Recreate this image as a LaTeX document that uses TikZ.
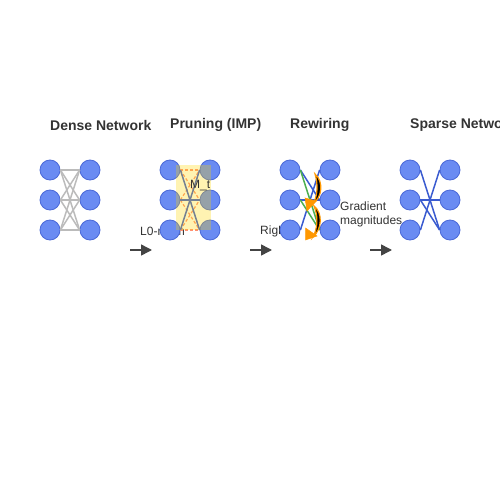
\documentclass[tikz,border=0pt]{standalone}
\usepackage{fontspec}
\setmainfont{Liberation Sans}
\usetikzlibrary{arrows.meta}
\definecolor{nodefill}{HTML}{6A8BF2}
\definecolor{nodeedge}{HTML}{4A68D8}
\definecolor{txt}{HTML}{333333}
\definecolor{flowc}{HTML}{444444}
\definecolor{dedge}{HTML}{BBBBBB}
\definecolor{sedge}{HTML}{3A5BD0}
\definecolor{gedge}{HTML}{4CAF50}
\definecolor{pruned}{HTML}{FF9070}
\definecolor{goldc}{HTML}{FFD700}
\definecolor{orng}{HTML}{FF9800}
\begin{document}
\begin{tikzpicture}[x=1pt,y=-1pt,
 neuron/.style={circle,fill=nodefill,draw=nodeedge,line width=0.8pt,minimum size=20pt,inner sep=0pt},
 title/.style={anchor=west,inner sep=0pt,text=txt,font=\fontsize{14}{16}\selectfont\bfseries},
 lbl/.style={anchor=west,inner sep=0pt,text=txt,font=\fontsize{12}{14}\selectfont},
 flow/.style={draw=flowc,line width=1.5pt,-{Triangle[length=11pt,width=11pt]}},
 dense/.style={draw=dedge,line width=1.5pt},
 kept/.style={draw=sedge,line width=1.5pt},
 grown/.style={draw=gedge,line width=1.5pt},
 prunedge/.style={draw=pruned,line width=1.2pt,dash pattern=on 3pt off 2pt},
 crescent/.style={fill=black,draw=orng,line width=1.2pt},
 tipshape/.style={fill=orng,draw=orng,line width=0.5pt}
]
\useasboundingbox (0,0) rectangle (500,500);

% titles
\node[title] (t1) at (50,125) {Dense Network};
\node[title] (t2) at (170,125) {Pruning (IMP)};
\node[title] (t3) at (290,125) {Rewiring};
\node[title] (t4) at (410,125) {Sparse Network};

% flow arrows and their labels
\foreach \k/\x in {1/130,2/250,3/370} {
  \coordinate (f\k s) at (\x,250);
  \coordinate (f\k e) at (\x+22,250);
  \draw[flow] (f\k s) -- (f\k e);
}
\node[lbl] (lab1) at (140,231) {L0-norm};
\node[lbl] (lab2) at (260,231) {RigL};
\node[lbl] (lab3a) at (340,206) {Gradient};
\node[lbl] (lab3b) at (340,221) {magnitudes};

% neurons
\foreach \p/\x in {d/50,p/170,r/290,s/410} {
  \foreach \i/\y in {1/170,2/200,3/230} {
    \node[neuron] (\p l\i) at (\x,\y) {};
    \node[neuron] (\p r\i) at (\x+40,\y) {};
  }
}

% dense network
\foreach \i in {1,2,3} {
  \foreach \j in {1,2,3} {
    \draw[dense] (dl\i.east) -- (dr\j.west);
  }
}

% pruning
\draw[prunedge] (pl1.east) -- (pr1.west);
\draw[prunedge] (pl1.east) -- (pr2.west);
\draw[prunedge] (pl2.east) -- (pr1.west);
\draw[prunedge] (pl2.east) -- (pr3.west);
\draw[prunedge] (pl3.east) -- (pr2.west);
\draw[prunedge] (pl3.east) -- (pr3.west);
\draw[kept] (pl1.east) -- (pr3.west);
\draw[kept] (pl2.east) -- (pr2.west);
\draw[kept] (pl3.east) -- (pr1.west);
\fill[goldc,opacity=0.3] (175.5,165) rectangle (210.5,230);
\node[lbl] (mt) at (190,186) {M\_t};

% rewiring
\draw[kept] (rl1.east) -- (rr2.west);
\draw[kept] (rl2.east) -- (rr2.west);
\draw[kept] (rl3.east) -- (rr1.west);
\draw[grown] (rl1.east) -- (rr3.west);
\draw[grown] (rl2.east) -- (rr3.west);
\draw[crescent] (315,174) .. controls (324,182) and (322,197) .. (313,204)
  .. controls (318,195) and (318,184) .. cycle;
\draw[crescent] (314,206) .. controls (323,213) and (322,229) .. (313,237)
  .. controls (318,228) and (318,215) .. cycle;
\filldraw[tipshape] (305,198) -- (316,201) -- (307,211) -- cycle;
\filldraw[tipshape] (305.5,228) -- (317,236) -- (305.5,240) -- cycle;

% sparse network
\draw[kept] (sl1.east) -- (sr3.west);
\draw[kept] (sl2.east) -- (sr2.west);
\draw[kept] (sl2.east) -- (sr3.west);
\draw[kept] (sl3.east) -- (sr1.west);
\end{tikzpicture}
\end{document}
